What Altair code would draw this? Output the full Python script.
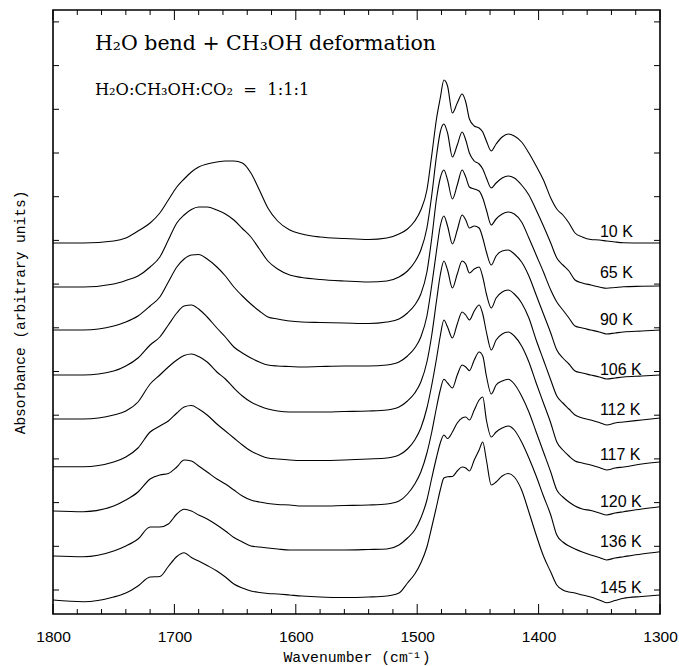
import altair as alt
import pandas as pd

# Wavenumber grid (cm^-1)
wavenumber = [1800, 1775, 1750, 1740, 1730, 1720, 1712, 1705, 1698, 1692, 1686, 1680, 1673, 1665, 1658, 1651,
              1644, 1637, 1630, 1623, 1615, 1605, 1595, 1580,
              1560, 1540, 1525, 1515,
              1508, 1502, 1497, 1492, 1488, 1484, 1481, 1478, 1475, 1471,
              1467, 1463, 1460, 1457, 1453, 1449, 1446, 1443, 1439, 1435,
              1430, 1425, 1420, 1414, 1408, 1402, 1396, 1390, 1385, 1380,
              1375, 1370, 1364, 1357, 1350, 1344, 1337, 1330, 1315, 1300]

temps = ["10 K", "65 K", "90 K", "106 K", "112 K", "117 K", "120 K", "136 K", "145 K"]

# stacked absorbance (arbitrary units, offsets included)
a10 = [371, 371, 373, 376, 383, 391, 401, 414, 427, 435, 442, 447, 450, 452, 453, 453, 451, 441, 424, 406, 393, 384, 380, 377,
       375.5, 374.5, 376, 380,
       385, 393, 404, 424, 459, 496, 516, 534, 528, 501,
       511, 520, 512, 495, 488, 486, 482, 473, 463, 470,
       477, 480, 478, 472, 461, 448, 434, 416, 405, 399,
       391, 381, 377, 374.5, 374, 373, 372, 371.3, 371, 371]
a65 = [327, 327, 330, 333.5, 338, 347, 357, 374, 391, 399, 404.5, 407, 407, 404, 400, 394, 385.5, 377, 365, 353, 345, 339, 336.5, 334.5,
       333, 332, 333, 337,
       343, 352, 364, 386, 419, 459, 482, 490, 481, 457,
       469, 482, 474, 461, 453, 450, 445, 436, 426, 431,
       436, 438, 436, 429, 419, 404, 388, 371, 356, 349,
       343, 334, 331, 329, 327, 325.7, 326.5, 327.3, 327.7, 328]
a90 = [284, 284, 288, 292, 298, 308, 317, 332, 347, 355, 359, 359.5, 355, 347, 338, 327, 318, 310, 303, 297, 295, 293, 292, 291.5,
       291, 290.5, 292, 295,
       301, 309, 320, 342, 376, 416, 436, 444, 434, 415,
       429, 444, 437, 427, 425, 423, 416, 404, 389, 395,
       400, 402, 400, 392, 376, 359, 342, 324, 312, 304,
       296, 288, 286, 284, 282, 280, 281, 282, 283, 284]
a106 = [239, 239, 243, 248, 256, 269, 277, 289, 301, 308, 309, 305, 297, 286, 277, 267, 261, 256, 252, 249, 248, 247.5, 247, 247.5,
        248, 248, 249, 252,
        258, 266, 277, 298, 329, 364, 388, 398, 388, 370,
        384, 399, 394, 386, 388, 386, 376, 362, 349, 358,
        363, 364, 360, 352, 338, 319, 300, 281, 264, 256,
        250, 243, 241, 239, 237, 235, 236, 237, 238, 239]
a112 = [195, 195, 199, 203, 212, 230, 239, 247, 254, 258.5, 260, 257.5, 252, 242, 235, 226, 218, 212, 208, 205, 203, 202, 202, 202,
        202.5, 203, 204, 207,
        213, 221, 232, 252, 279, 314, 339, 353, 344, 326,
        340, 353, 350, 341, 345, 347, 337, 320, 306, 316,
        322, 324, 320, 311, 296, 274, 254, 234, 218, 211,
        205, 199, 196, 194, 191.5, 189, 191, 192, 194, 196]
a117 = [147.3, 147.3, 152, 157, 166, 182, 188, 193, 201, 207, 208.5, 205, 199, 190, 183, 176, 169, 163, 159, 156, 155, 154, 153.5, 153.5,
        154, 155, 156, 159,
        165, 174, 186, 206, 229, 256, 278, 294, 287, 276,
        290, 302, 299, 294, 303, 309, 300, 282, 264, 274,
        280, 282, 278, 268, 252, 231, 211, 191, 172, 164,
        158, 153, 151, 149, 146.5, 144, 146, 147, 150, 152]
a120 = [103, 102.3, 108, 114, 122, 135, 139, 140.5, 147, 154, 153, 148, 142, 135, 130, 124, 118, 114, 112, 110.5, 109.5, 109, 108, 108,
        108.5, 109, 110, 113,
        120, 130, 142, 161, 182, 207, 224, 234.7, 231, 226,
        239, 249, 247, 243.3, 254, 262, 258, 238, 220, 229,
        233, 234.7, 230, 218, 202, 182, 162, 142, 124, 117,
        112, 108, 105, 103.5, 101, 99, 101, 102.3, 105, 107.3]
a136 = [58, 57.3, 63, 68, 75, 87, 87, 90, 100, 104.7, 103, 99, 95, 89, 83, 76.5, 72, 68, 67, 66, 65, 64, 64, 64,
        64, 64.5, 65, 69,
        76, 84, 96, 114, 136, 157, 171, 179, 175.5, 182,
        191, 196, 197, 194, 204, 214, 217, 194, 177, 182,
        186, 188, 184, 172, 156, 138, 118, 99, 79, 72,
        68, 65, 62, 59, 56.5, 54, 56, 57.3, 60, 62.3]
a145 = [14, 12.3, 17, 21, 28, 37, 37.5, 47.5, 57.5, 61.3, 56.5, 53, 48.5, 43, 37, 30, 26, 23, 21.5, 20.5, 20, 19, 18, 17,
        16.5, 17, 18, 21,
        31, 40, 51, 67, 87, 108, 124, 136, 137.3, 137.5,
        143, 147, 146, 143, 154, 164, 172, 154, 129, 132,
        138, 140.5, 137, 124, 102, 79, 58, 42, 29, 24,
        22, 21, 19, 17, 14, 11.3, 13.5, 15.7, 17.5, 19]

spectra = [a10, a65, a90, a106, a112, a117, a120, a136, a145]

# label levels for temperature annotations
label_wn = 1349.5
label_levels = [382.3, 341.3, 294, 244, 204, 159, 112.3, 72.3, 25.7]

# axis ticks
x_major = [1800, 1700, 1600, 1500, 1400, 1300]
x_minor = [1780, 1760, 1740, 1720, 1680, 1660, 1640, 1620, 1580, 1560, 1540, 1520,
           1480, 1460, 1440, 1420, 1380, 1360, 1340, 1320]
y_ticks = [24, 67.7, 111.4, 155.1, 198.8, 242.5, 286.2, 329.9, 373.6, 417.3, 461, 504.7, 548.4, 592.1]

title_lines = ["H\u2082O bend + CH\u2083OH deformation",
               "H\u2082O:CH\u2083OH:CO\u2082\u00a0 =\u00a0 1:1:1"]
title_wn = [1765.5, 1765.5]
title_level = [564, 519]

rows = []
for t, arr in zip(temps, spectra):
    for w, a in zip(wavenumber, arr):
        rows.append({"wn": w, "A": a, "T": t})
df = pd.DataFrame(rows)

W, H = 607, 604
xs = alt.Scale(domain=[1300, 1800], reverse=True, nice=False, zero=False)
ys = alt.Scale(domain=[0, 604], nice=False, zero=False)

x_axis = alt.Axis(
    values=x_major, title="Wavenumber (cm\u207b\u00b9)", ticks=False, tickSize=0, domain=False, grid=False,
    labelFont="Liberation Sans", labelFontSize=15.5, labelColor="black", labelPadding=15,
    titleFont="Liberation Mono", titleFontSize=14.8, titleFontWeight="normal", titleColor="black",
    titlePadding=5, format="d", labelFlush=False)
y_axis = alt.Axis(
    title="Absorbance (arbitrary units)", labels=False, ticks=False, tickSize=0, domain=False, grid=False,
    titleFont="Liberation Mono", titleFontSize=14.5, titleFontWeight="normal", titleColor="black",
    titlePadding=26)

X = alt.X("wn:Q", scale=xs, axis=x_axis, title="Wavenumber (cm\u207b\u00b9)")
Y = alt.Y("A:Q", scale=ys, axis=y_axis, title="Absorbance (arbitrary units)")

lines = alt.Chart(df).mark_line(color="black", strokeWidth=1.1, interpolate="monotone").encode(
    x=X, y=Y, detail="T:N")

def xrule(vals, y0, y1):
    return alt.Chart(pd.DataFrame({"wn": vals})).mark_rule(color="black", strokeWidth=1).encode(
        x=X, y=alt.value(y0), y2=alt.value(y1))

def yrule(vals, x0, x1):
    return alt.Chart(pd.DataFrame({"A": vals})).mark_rule(color="black", strokeWidth=1).encode(
        y=Y, x=alt.value(x0), x2=alt.value(x1))

ticks = [
    xrule(x_major, H, H - 10), xrule(x_minor, H, H - 5),
    xrule(x_major, 0, 10), xrule(x_minor, 0, 5),
    yrule(y_ticks, 0, 6), yrule(y_ticks, W, W - 6),
]

labels = alt.Chart(pd.DataFrame({"wn": [label_wn] * len(temps), "A": label_levels, "T": temps})).mark_text(
    align="left", baseline="middle", font="Liberation Sans", fontSize=16, color="black").encode(
    x=X, y=Y, text="T:N")

tdf = pd.DataFrame({"wn": title_wn, "A": title_level, "txt": title_lines})
t1 = alt.Chart(tdf.iloc[[0]]).mark_text(align="left", baseline="alphabetic", font="DejaVu Serif",
                                        fontSize=20.5, color="black").encode(x=X, y=Y, text="txt:N")
t2 = alt.Chart(tdf.iloc[[1]]).mark_text(align="left", baseline="alphabetic", font="DejaVu Serif",
                                        fontSize=16.3, color="black").encode(x=X, y=Y, text="txt:N")

chart = alt.layer(lines, *ticks, labels, t1, t2).properties(
    width=W, height=H,
    autosize=alt.AutoSizeParams(type="none"),
    padding={"left": 53, "top": 10, "right": 19, "bottom": 52},
    background="white",
).configure_view(stroke="black", strokeWidth=1.6)

chart.save("out.html", embed_options={"renderer": "svg", "actions": False})
